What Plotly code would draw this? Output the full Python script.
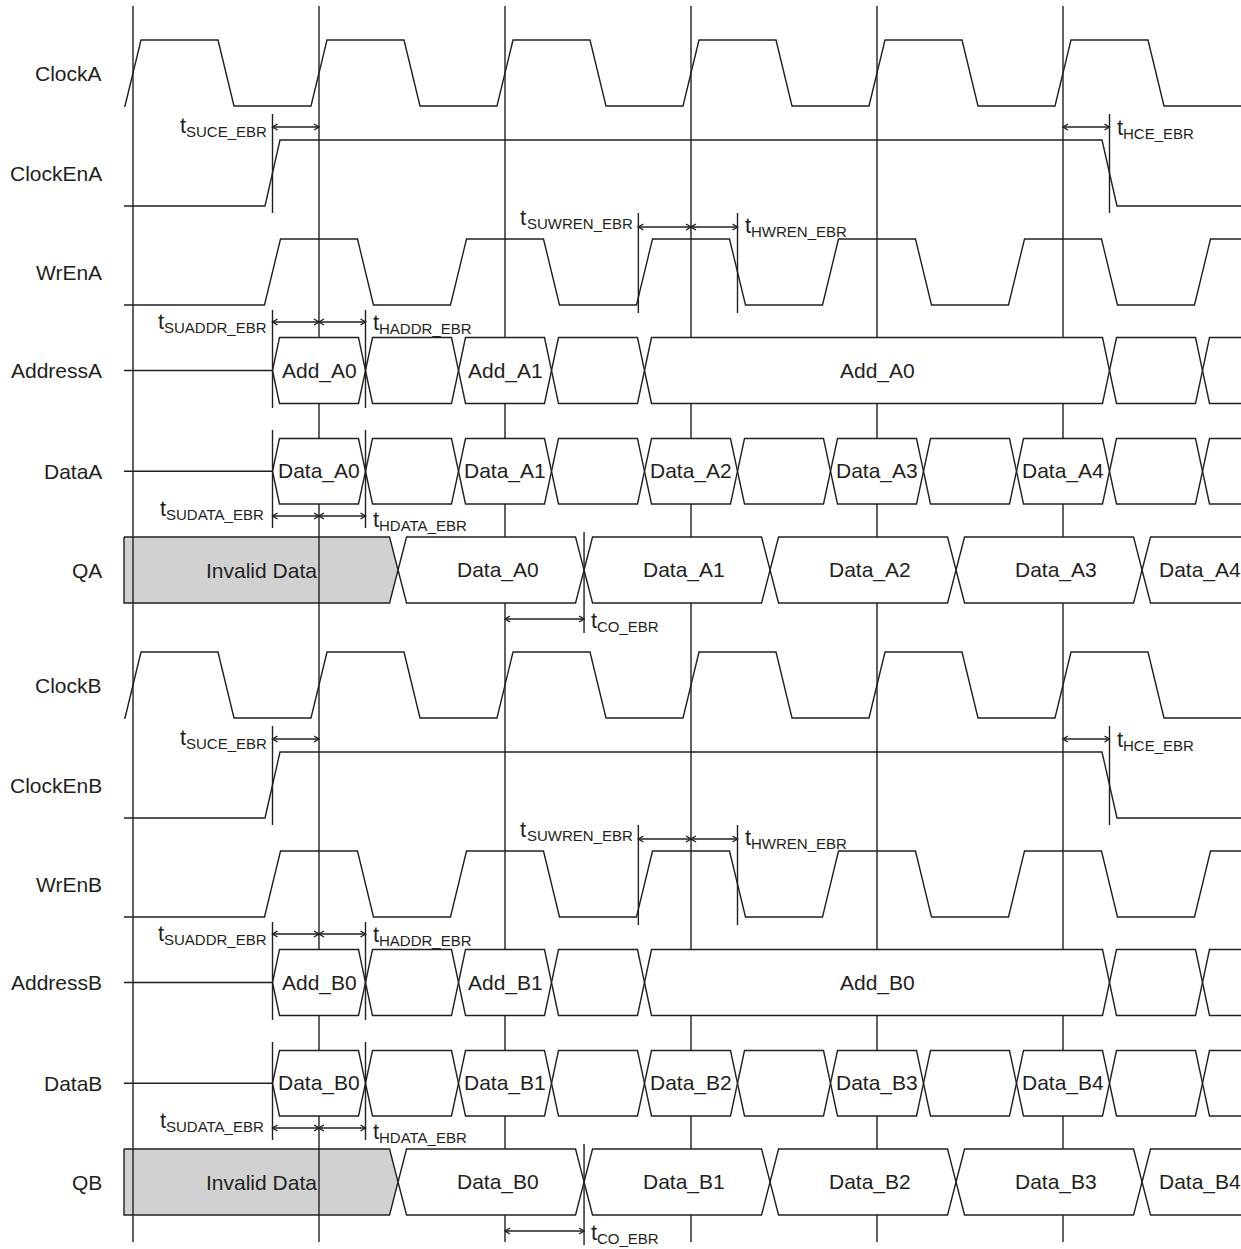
import plotly.graph_objects as go

# ---------------- data (time in clock cycles, 0 = first rising edge) ----------------
CYCLE_EDGES = [0, 1, 2, 3, 4, 5]
CLOCK_TOGGLES = [0, 0.5, 1, 1.5, 2, 2.5, 3, 3.5, 4, 4.5, 5, 5.5]          # starts low
CLOCK_EN_TOGGLES = [0.75, 5.25]                                           # starts low
WR_EN_TOGGLES = [0.75, 1.25, 1.75, 2.25, 2.75, 3.25, 3.75, 4.25, 4.75, 5.25, 5.75]  # starts low
ADDR_EDGES = [0.75, 1.25, 1.75, 2.25, 2.75, 5.25, 5.75]
ADDR_A_LABELS = ["Add_A0", "", "Add_A1", "", "Add_A0", "", ""]
ADDR_B_LABELS = ["Add_B0", "", "Add_B1", "", "Add_B0", "", ""]
DATA_EDGES = [0.75, 1.25, 1.75, 2.25, 2.75, 3.25, 3.75, 4.25, 4.75, 5.25, 5.75]
DATA_A_LABELS = ["Data_A0", "", "Data_A1", "", "Data_A2", "", "Data_A3", "", "Data_A4", "", ""]
DATA_B_LABELS = ["Data_B0", "", "Data_B1", "", "Data_B2", "", "Data_B3", "", "Data_B4", "", ""]
Q_EDGES = [1.425, 2.425, 3.425, 4.425, 5.425]
Q_A_LABELS = ["Invalid Data", "Data_A0", "Data_A1", "Data_A2", "Data_A3", "Data_A4"]
Q_B_LABELS = ["Invalid Data", "Data_B0", "Data_B1", "Data_B2", "Data_B3", "Data_B4"]
SIGNALS_A = ["ClockA", "ClockEnA", "WrEnA", "AddressA", "DataA", "QA"]
SIGNALS_B = ["ClockB", "ClockEnB", "WrEnB", "AddressB", "DataB", "QB"]
TIMING_NAMES = ["SUCE_EBR", "HCE_EBR", "SUWREN_EBR", "HWREN_EBR", "SUADDR_EBR",
                "HADDR_EBR", "SUDATA_EBR", "HDATA_EBR", "CO_EBR"]
TIMING_ROWS = [1, 1, 2, 2, 3, 3, 4, 4, 5]
TIMING_START = [0.75, 5.0, 2.717, 3.0, 0.75, 1.0, 0.75, 1.0, 2.0]
TIMING_END = [1.0, 5.25, 3.0, 3.25, 1.0, 1.25, 1.0, 1.25, 2.425]
TIMING_IS_SETUP = [True, False, True, False, True, False, True, False, False]

# ---------------- geometry / style ----------------
W, H = 1241, 1249
PX = 186.0          # pixels per cycle
X0 = 133.0          # pixel of cycle 0
INK = "#231f20"
GRAY = "#d1d1d1"
FONT = "Liberation Sans, Arial, Helvetica, sans-serif"
LW = 1.4
LABEL_SIZE = 21
T_SIZE = 22
SUB_SIZE = 15
# Arial / Liberation Sans advance widths (per 1000 em) used to butt the subscript against the 't'
ADV = {"S": 667, "U": 722, "C": 722, "E": 667, "_": 556, "B": 667, "R": 722, "H": 722,
       "W": 944, "N": 722, "A": 667, "D": 722, "T": 611, "O": 778, "t": 278}


def tx(px):
    return (px - X0) / PX


def dp(px):
    return px / PX


def width_px(s, size):
    return sum(ADV.get(c, 600) for c in s) * size / 1000.0


T_START = tx(124)
T_END = tx(W + 2)
ROW_TOP = [40, 140, 239, 337.5, 438.5, 537]
ROW_BOT = [106, 206, 305, 403.5, 504, 603]
BLOCK_OFFSET = [0, 612]
ARROW_Y = {1: ("top", -13), 2: ("top", -12), 3: ("top", -15.5), 4: ("bot", 12), 5: ("bot", 16)}
TICK_Y = {1: (-26, 7), 2: (-26, 8), 3: (-27.5, 4.5), 4: (-8.5, 24), 5: (-5, 30)}
LABEL_DY = {"SUCE_EBR": 0, "HCE_EBR": 2, "SUWREN_EBR": -8, "HWREN_EBR": 0, "SUADDR_EBR": 1,
            "HADDR_EBR": 2, "SUDATA_EBR": -6, "HDATA_EBR": 5, "CO_EBR": 3}

line_x, line_y = [], []
grid_x, grid_y = [], []
white_x, white_y = [], []
gray_x, gray_y = [], []
annots = []


def add(xs, ys, bx=line_x, by=line_y):
    bx.extend(list(xs) + [None])
    by.extend(list(ys) + [None])


def digital(toggles, top, bot, hw):
    level = bot
    xs, ys = [T_START], [bot]
    for t in toggles:
        xs.append(t - dp(hw)); ys.append(level)
        level = top if level == bot else bot
        xs.append(t + dp(hw)); ys.append(level)
    xs.append(T_END); ys.append(level)
    add(xs, ys)


def text(x, y, s, size=LABEL_SIZE, xanchor="center", pad=1):
    annots.append(dict(x=x, y=y, text=s, showarrow=False, xanchor=xanchor, yanchor="middle",
                       borderpad=pad, font=dict(family=FONT, size=size, color=INK)))


def bus(edges, labels, top, bot, hw):
    mid = (top + bot) / 2
    add([T_START, edges[0]], [mid, mid])
    h = dp(hw)
    bounds = edges + [None]
    for i, lab in enumerate(labels):
        a, b = bounds[i], bounds[i + 1]
        if b is None:
            xs = [T_END, a + h, a, a + h, T_END]
            ys = [top, top, mid, bot, bot]
            add(xs, ys)
            add(xs, ys, white_x, white_y)
            if lab:
                text(a + dp(16), mid, lab, xanchor="left")
        else:
            xs = [a, a + h, b - h, b, b - h, a + h, a]
            ys = [mid, top, top, mid, bot, bot, mid]
            add(xs, ys)
            add(xs, ys, white_x, white_y)
            if lab:
                text((a + b) / 2, mid, lab)


def qbus(edges, labels, top, bot, hw):
    mid = (top + bot) / 2
    h = dp(hw)
    e0 = edges[0]
    xs = [T_START, e0 - h, e0, e0 - h, T_START, T_START]
    ys = [top, top, mid, bot, bot, top]
    add(xs, ys)
    add(xs, ys, gray_x, gray_y)
    text((T_START + e0) / 2, mid, labels[0])
    bounds = edges + [None]
    for i, lab in enumerate(labels[1:]):
        a, b = bounds[i], bounds[i + 1]
        if b is None:
            xs = [T_END, a + h, a, a + h, T_END]
            ys = [top, top, mid, bot, bot]
            add(xs, ys)
            add(xs, ys, white_x, white_y)
            text(a + dp(15), mid, lab, xanchor="left")
        else:
            xs = [a, a + h, b - h, b, b - h, a + h, a]
            ys = [mid, top, top, mid, bot, bot, mid]
            add(xs, ys)
            add(xs, ys, white_x, white_y)
            text((a + b) / 2 + dp(7), mid, lab)


def chevron(tip, y, direction):
    L = dp(5)
    add([tip - direction * L, tip, tip - direction * L], [y - 3, y, y + 3])


def timing_label(x_edge, y, name, anchor):
    """'t' followed by a subscript name; anchor='right' puts the right edge at x_edge."""
    sub_w = width_px(name, SUB_SIZE)
    t_w = width_px("t", T_SIZE)
    if anchor == "right":
        x_sub = x_edge - sub_w
        x_t = x_sub - t_w
    else:
        x_t = x_edge
        x_sub = x_edge + t_w
    text(tx(x_t), y - 2, "t", size=T_SIZE, xanchor="left", pad=0)
    text(tx(x_sub), y + 4, name, size=SUB_SIZE, xanchor="left", pad=0)


# grid lines
for e in CYCLE_EDGES:
    add([e, e], [6, 1242], grid_x, grid_y)

for bi, off in enumerate(BLOCK_OFFSET):
    top = [v + off for v in ROW_TOP]
    bot = [v + off for v in ROW_BOT]
    names = SIGNALS_A if bi == 0 else SIGNALS_B
    for r, nm in enumerate(names):
        text(tx(104), (top[r] + bot[r]) / 2, nm, xanchor="right")
    digital(CLOCK_TOGGLES, top[0], bot[0], 8)
    digital(CLOCK_EN_TOGGLES, top[1], bot[1], 7.5)
    digital(WR_EN_TOGGLES, top[2], bot[2], 8)
    bus(ADDR_EDGES, ADDR_A_LABELS if bi == 0 else ADDR_B_LABELS, top[3], bot[3], 7)
    bus(DATA_EDGES, DATA_A_LABELS if bi == 0 else DATA_B_LABELS, top[4], bot[4], 7)
    qbus(Q_EDGES, Q_A_LABELS if bi == 0 else Q_B_LABELS, top[5], bot[5], 8.5)

    for nm, r, t0, t1, setup in zip(TIMING_NAMES, TIMING_ROWS, TIMING_START, TIMING_END, TIMING_IS_SETUP):
        ref, d = ARROW_Y[r]
        ay = (top[r] if ref == "top" else bot[r]) + d
        add([t0, t1], [ay, ay])
        chevron(t0, ay, -1)
        chevron(t1, ay, 1)
        ty0, ty1 = TICK_Y[r]
        for tt in (t0, t1):
            if abs(tt - round(tt)) > 1e-6:
                add([tt, tt], [top[r] + ty0, bot[r] + ty1])
        if setup:
            timing_label(X0 + t0 * PX - 7, ay + LABEL_DY[nm], nm, "right")
        else:
            timing_label(X0 + t1 * PX + 6, ay + LABEL_DY[nm], nm, "left")

fig = go.Figure()
fig.add_trace(go.Scatter(x=gray_x, y=gray_y, mode="lines", fill="toself", fillcolor=GRAY,
                         line=dict(width=0, color=GRAY), hoverinfo="skip"))
fig.add_trace(go.Scatter(x=grid_x, y=grid_y, mode="lines", line=dict(width=LW, color=INK),
                         hoverinfo="skip"))
fig.add_trace(go.Scatter(x=white_x, y=white_y, mode="lines", fill="toself", fillcolor="white",
                         line=dict(width=0, color="white"), hoverinfo="skip"))
fig.add_trace(go.Scatter(x=line_x, y=line_y, mode="lines", line=dict(width=LW, color=INK),
                         hoverinfo="skip"))

fig.update_layout(
    width=W, height=H, autosize=False,
    margin=dict(l=0, r=0, t=0, b=0),
    paper_bgcolor="white", plot_bgcolor="white",
    font=dict(family=FONT, size=LABEL_SIZE, color=INK),
    showlegend=False,
    xaxis=dict(range=[tx(0), tx(W)], visible=False, fixedrange=True),
    yaxis=dict(range=[H, 0], visible=False, fixedrange=True),
    annotations=annots,
)
fig.write_html("out.html", config={"displayModeBar": False},
               post_script="document.body.style.margin='0';")
